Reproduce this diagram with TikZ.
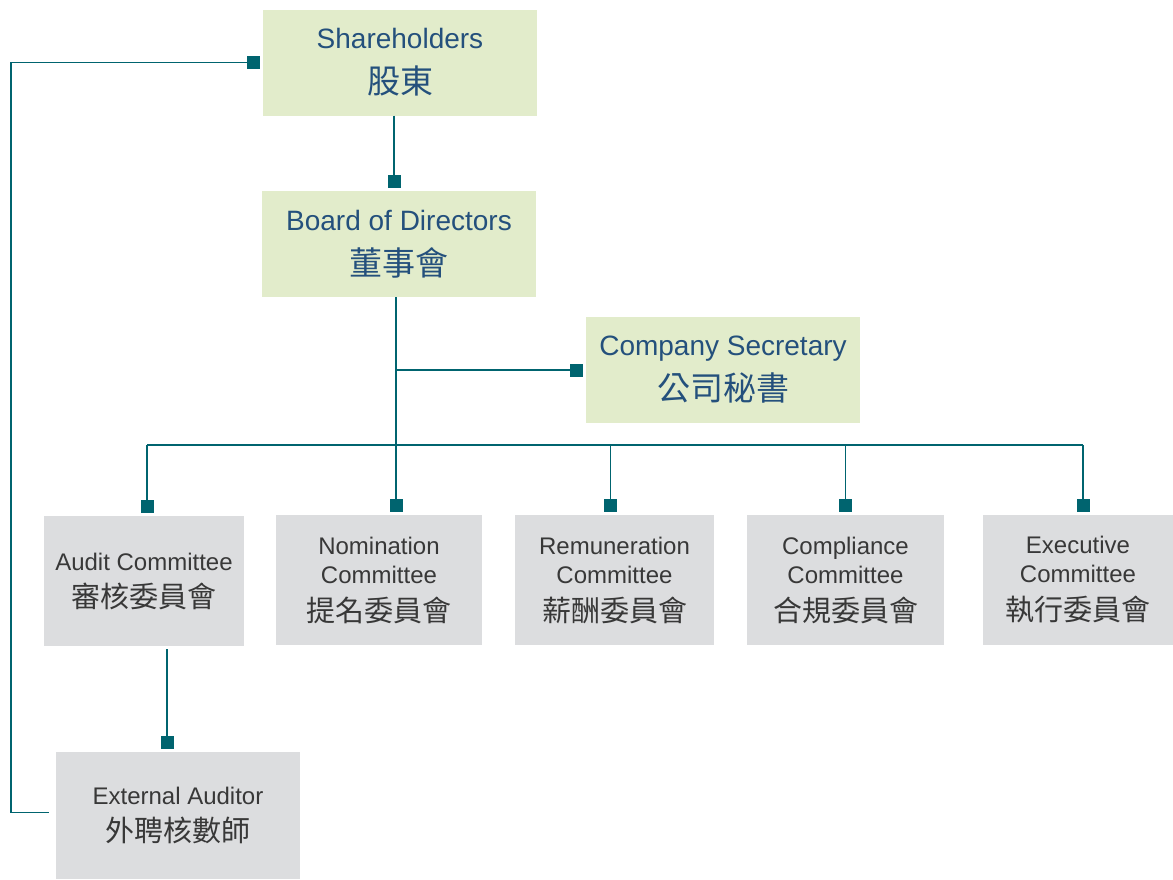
\documentclass[tikz,border=0pt]{standalone}
\usepackage{fontspec}
\setmainfont{Liberation Sans}
\newfontfamily\cjk{Noto Sans CJK TC}
\usetikzlibrary{arrows.meta}

\definecolor{linkteal}{HTML}{00646F}
\definecolor{boxgreen}{HTML}{E2ECCB}
\definecolor{boxgrey}{HTML}{DCDDDF}
\definecolor{textblue}{HTML}{24507C}
\definecolor{textgrey}{HTML}{383838}

\tikzset{
	link/.style={draw=linkteal, line width=1.6pt},
	sq/.style={-{Square[length=13pt,width=13pt]}, shorten >=3pt},
	greenbox/.style={fill=boxgreen, text=textblue, minimum width=274pt, minimum height=106pt,
		align=center, inner sep=0pt, font=\fontsize{28}{43}\selectfont},
	greybox/.style={fill=boxgrey, text=textgrey, minimum height=130pt,
		align=center, inner sep=0pt, font=\fontsize{24}{29}\selectfont},
}
\newcommand{\zh}[1]{{\cjk\fontsize{29}{29}\selectfont #1}}
\newcommand{\zhbig}[1]{{\cjk\fontsize{33}{43}\selectfont #1}}

\begin{document}
\begin{tikzpicture}[x=1pt, y=-1pt]
			%%%%% START %%%%%
			\useasboundingbox (0, 0) rectangle (1173, 879);
			
			\node[greenbox] (sh) at (400, 62.5) {Shareholders\\[2pt]\zhbig{股東}};
			\node[greenbox] (bd) at (399, 244) {Board of Directors\\[2pt]\zhbig{董事會}};
			\node[greenbox] (cs) at (723, 370) {Company Secretary\\[2pt]\zhbig{公司秘書}};
			
			\node[greybox, minimum width=200pt] (ac) at (144, 581) {Audit Committee\\[8pt]\zh{審核委員會}};
			\node[greybox, minimum width=206pt] (nc) at (379, 580) {Nomination\\Committee\\[9pt]\zh{提名委員會}};
			\node[greybox, minimum width=199pt] (rc) at (614.5, 580) {Remuneration\\Committee\\[9pt]\zh{薪酬委員會}};
			\node[greybox, minimum width=197pt] (cc) at (845.5, 580) {Compliance\\Committee\\[9pt]\zh{合規委員會}};
			\node[greybox, minimum width=190pt] (ec) at (1078, 580) {Executive\\Committee\\[9pt]\zh{執行委員會}};
			
			\node[greybox, minimum width=244pt, minimum height=127pt] (ea) at (178, 815.5) {External Auditor\\[8pt]\zh{外聘核數師}};
			
			\coordinate (bus) at (0, 445);
			\coordinate (loop) at (11, 0);
			
			% shareholders to board
			\draw[link, sq] ([xshift=-6pt]sh.south) -- ([xshift=-5pt]bd.north);
			
			% board down to nomination, branch to secretary
			\draw[link, sq] ([xshift=-3pt]bd.south) -- ([xshift=-3pt]bd.south |- nc.north);
			\draw[link, sq] ([xshift=-3pt]bd.south |- cs.west) -- (cs.west);
			
			% committees
			\draw[link] ([xshift=3pt]ac.north |- bus) -- ([xshift=5pt]ec.north |- bus);
			\foreach \c/\s in {ac/3, rc/-4, cc/0, ec/5}
				\draw[link, sq] ([xshift=\s pt]\c.north |- bus) -- ([xshift=\s pt]\c.north);
			
			% audit to auditor, auditor back to shareholders
			\draw[link, sq] ([xshift=23pt, yshift=-3pt]ac.south) -- ([xshift=23pt]ac.south |- ea.north);
			\draw[link, sq] ([xshift=-7pt, yshift=3pt]ea.west) -| (loop |- sh.west) -- (sh.west);
			%%%%% END %%%%%
\end{tikzpicture}
\end{document}
